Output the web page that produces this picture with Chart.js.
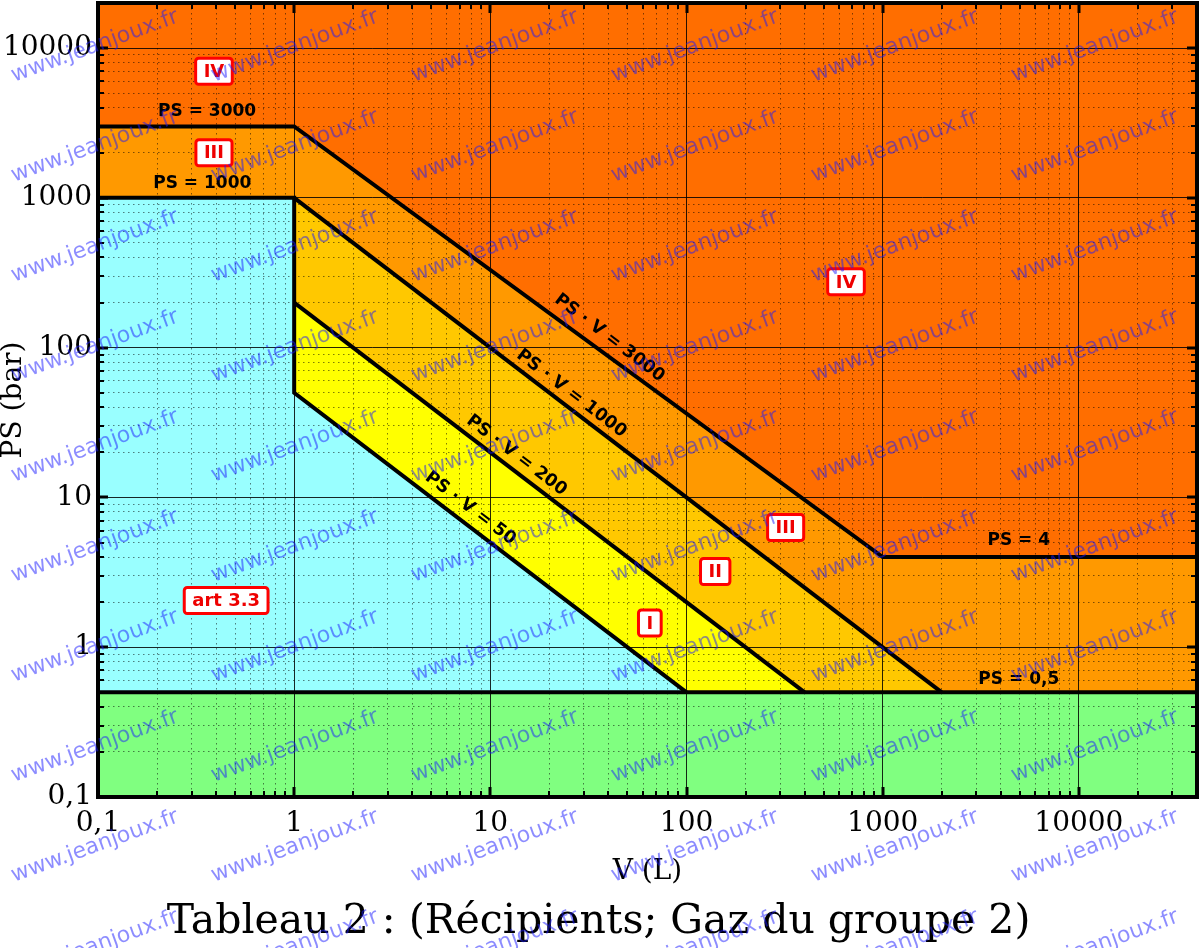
<!DOCTYPE html>
<html><head><meta charset="utf-8">
<script src="https://cdn.jsdelivr.net/npm/chart.js@4"></script>
<style>html,body{margin:0;padding:0;background:#fff;} #wrap{width:1200px;height:948px;}</style>
</head><body><div id="wrap"><canvas id="c" width="1200" height="948"></canvas></div>
<script>
// ---------------- data ----------------
const X_TICK_VALUES = [0.1, 1, 10, 100, 1000, 10000];
const X_TICK_LABELS = ['0,1', '1', '10', '100', '1000', '10000'];
const Y_TICK_VALUES = [0.1, 1, 10, 100, 1000, 10000];
const Y_TICK_LABELS = ['0,1', '1', '10', '100', '1000', '10000'];
const X_MIN = 0.1, X_MAX = 40000;
const Y_MIN = 0.1, Y_MAX = 20000;

// region boundaries (V in L, PS in bar)
const IV_V = [0.1, 40000];          const IV_PS = [20000, 20000];
const III_V = [0.1, 1, 1000, 40000]; const III_PS = [3000, 3000, 4, 4];
const II_V = [1, 2000];             const II_PS = [1000, 0.5];
const I_V = [1, 400];               const I_PS = [200, 0.5];
const ART_V = [0.1, 1, 1, 100];     const ART_PS = [1000, 1000, 50, 0.5];
const GREEN_V = [0.1, 40000];       const GREEN_PS = [0.5, 0.5];

// category labels
const BOX_TEXT = ['IV', 'III', 'IV', 'III', 'II', 'I', 'art 3.3'];
const BOX_V = [0.39, 0.39, 650, 320, 140, 65, 0.45];
const BOX_PS = [7000, 2000, 275, 6.3, 3.2, 1.45, 2.05];

// line labels
const HLABEL_TEXT = ['PS = 3000', 'PS = 1000', 'PS = 4', 'PS = 0,5'];
const HLABEL_V = [0.36, 0.34, 4940, 4940];
const HLABEL_PS = [3750, 1240, 5.17, 0.61];
const SLABEL_TEXT = ['PS · V = 3000', 'PS · V = 1000', 'PS · V = 200', 'PS · V = 50'];
const SLABEL_V = [40.5, 25.9, 13.6, 7.9];
const SLABEL_PS = [116, 49.4, 19.05, 8.45];

const TITLE = 'Tableau 2 : (Récipients; Gaz du groupe 2)';
const X_TITLE = 'V (L)';
const Y_TITLE = 'PS (bar)';
const WATERMARK = 'www.jeanjoux.fr';

// ---------------- helpers ----------------
const pts = (xs, ys) => xs.map((x, i) => ({x: x, y: ys[i]}));
const isPow10 = v => Math.abs(Math.log10(v) - Math.round(Math.log10(v))) < 1e-9;
function logTicks(min, max) {
  const out = [];
  for (let e = Math.floor(Math.log10(min)); e <= Math.ceil(Math.log10(max)); e++) {
    for (let m = 1; m <= 9; m++) {
      const v = Number((m * Math.pow(10, e)).toPrecision(8));
      if (v >= min * 0.999999 && v <= max * 1.000001) out.push({value: v});
    }
  }
  return out;
}
function lookupLabel(values, labels, v) {
  const i = values.findIndex(t => Math.abs(t - v) / t < 1e-6);
  return i >= 0 ? labels[i] : '';
}
function zeroPad(s) { s.paddingTop = 0; s.paddingBottom = 0; s.paddingLeft = 0; s.paddingRight = 0; }

const SERIF = '"DejaVu Serif"';
const SANS = '"DejaVu Sans"';

const lineDs = (label, xs, ys, color, bw) => ({
  label, data: pts(xs, ys), backgroundColor: color, borderColor: '#000',
  borderWidth: bw, fill: 'start', pointRadius: 0, tension: 0, borderJoinStyle: 'miter'
});

const gridOpts = {
  z: 1, drawTicks: false,
  color: ctx => (ctx.tick && isPow10(ctx.tick.value)) ? 'rgba(0,0,0,0.85)' : 'rgba(0,0,0,0.5)',
  lineWidth: 1
};
const borderOpts = {
  display: false, z: 2,
  dash: ctx => (ctx.tick && !isPow10(ctx.tick.value)) ? [1.5, 3.5] : []
};

// ---------------- plugin: frame, inner ticks, labels, watermark ----------------
const decor = {
  id: 'decor',
  afterDraw(chart) {
    const ctx = chart.ctx, a = chart.chartArea;
    const xs = chart.scales.x, ys = chart.scales.y;
    ctx.save();
    // inward ticks
    ctx.strokeStyle = '#000';
    xs.ticks.forEach(t => {
      const px = Math.round(xs.getPixelForValue(t.value));
      const maj = isPow10(t.value);
      ctx.lineWidth = maj ? 3 : 2;
      const L = maj ? 10 : 6;
      ctx.beginPath(); ctx.moveTo(px, a.bottom); ctx.lineTo(px, a.bottom - L);
      ctx.moveTo(px, a.top); ctx.lineTo(px, a.top + L); ctx.stroke();
    });
    ys.ticks.forEach(t => {
      const py = Math.round(ys.getPixelForValue(t.value));
      const maj = isPow10(t.value);
      ctx.lineWidth = maj ? 3 : 2;
      const L = maj ? 10 : 6;
      ctx.beginPath(); ctx.moveTo(a.left, py); ctx.lineTo(a.left + L, py);
      ctx.moveTo(a.right, py); ctx.lineTo(a.right - L, py); ctx.stroke();
    });
    // frame
    ctx.lineWidth = 4;
    ctx.strokeRect(a.left, a.top, a.right - a.left, a.bottom - a.top);

    // horizontal line labels
    ctx.fillStyle = '#000';
    ctx.font = 'bold 17px ' + SANS;
    ctx.textAlign = 'center'; ctx.textBaseline = 'middle';
    HLABEL_TEXT.forEach((s, i) => {
      ctx.fillText(s, xs.getPixelForValue(HLABEL_V[i]), ys.getPixelForValue(HLABEL_PS[i]));
    });
    // sloped labels
    const ang = Math.atan2(ys.getPixelForValue(1) - ys.getPixelForValue(10),
                           xs.getPixelForValue(10) - xs.getPixelForValue(1));
    ctx.font = 'bold 17.5px ' + SANS;
    SLABEL_TEXT.forEach((s, i) => {
      ctx.save();
      ctx.translate(xs.getPixelForValue(SLABEL_V[i]), ys.getPixelForValue(SLABEL_PS[i]));
      ctx.rotate(ang);
      ctx.fillText(s, 0, 0);
      ctx.restore();
    });
    // boxed category labels
    ctx.font = 'bold 18px ' + SANS;
    BOX_TEXT.forEach((s, i) => {
      const cx = xs.getPixelForValue(BOX_V[i]), cy = ys.getPixelForValue(BOX_PS[i]);
      const w = ctx.measureText(s).width + 16, h = 26;
      ctx.beginPath();
      ctx.roundRect(cx - w / 2, cy - h / 2, w, h, 3);
      ctx.fillStyle = '#fff'; ctx.fill();
      ctx.lineWidth = 3; ctx.strokeStyle = '#ff0000'; ctx.stroke();
      ctx.fillStyle = '#ee0000';
      ctx.fillText(s, cx, cy + 1);
    });

    // watermark
    ctx.font = '22px ' + SANS;
    ctx.fillStyle = 'rgba(25,25,255,0.5)';
    ctx.textAlign = 'left'; ctx.textBaseline = 'alphabetic';
    for (let c = 0; c < 6; c++) {
      for (let r = -1; r < 10; r++) {
        ctx.save();
        ctx.translate(14 + 200 * c, 82 + 100 * r);
        ctx.rotate(-20 * Math.PI / 180);
        ctx.fillText(WATERMARK, 0, 0);
        ctx.restore();
      }
    }
    ctx.restore();
  }
};

new Chart(document.getElementById('c'), {
  type: 'line',
  data: {
    datasets: [
      lineDs('PS = 0,5', GREEN_V, GREEN_PS, '#80FF80', 4),
      lineDs('art 3.3', ART_V, ART_PS, '#99FFFF', 4),
      lineDs('I', I_V, I_PS, '#FFFF00', 4),
      lineDs('II', II_V, II_PS, '#FFC800', 4),
      lineDs('III', III_V, III_PS, '#FF9900', 4),
      lineDs('IV', IV_V, IV_PS, '#FF6E00', 0)
    ]
  },
  options: {
    responsive: false,
    animation: false,
    devicePixelRatio: 1,
    layout: {padding: {top: 3, right: 3, left: 0, bottom: 0}},
    plugins: {
      legend: {display: false},
      tooltip: {enabled: false},
      filler: {drawTime: 'beforeDatasetsDraw'},
      title: {
        display: true, position: 'bottom', text: TITLE, color: '#000',
        font: {family: SERIF, size: 41, weight: 'normal', lineHeight: 1.2},
        padding: {top: 0, bottom: 1}
      }
    },
    scales: {
      x: {
        type: 'logarithmic', min: X_MIN, max: X_MAX,
        afterBuildTicks: s => { s.ticks = logTicks(X_MIN, X_MAX); },
        afterFit: s => { s.height = 100.8; zeroPad(s); },
        grid: gridOpts, border: borderOpts,
        ticks: {
          z: 1, autoSkip: false, maxRotation: 0, minRotation: 0, padding: 10, color: '#000',
          font: {family: SERIF, size: 28},
          callback: v => lookupLabel(X_TICK_VALUES, X_TICK_LABELS, v)
        },
        title: {display: true, text: X_TITLE, color: '#000',
                font: {family: SERIF, size: 28, lineHeight: 1.2}, padding: {top: 0, bottom: 9}}
      },
      y: {
        type: 'logarithmic', min: Y_MIN, max: Y_MAX,
        afterBuildTicks: s => { s.ticks = logTicks(Y_MIN, Y_MAX); },
        afterFit: s => { s.width = 98; zeroPad(s); },
        grid: gridOpts, border: borderOpts,
        ticks: {
          z: 1, autoSkip: false, padding: 6, color: '#000',
          font: {family: SERIF, size: 28},
          callback: v => lookupLabel(Y_TICK_VALUES, Y_TICK_LABELS, v)
        },
        title: {display: true, text: Y_TITLE, color: '#000',
                font: {family: SERIF, size: 28, lineHeight: 1.0}, padding: {top: 0, bottom: 0}}
      }
    }
  },
  plugins: [decor]
});
</script>
</body></html>
